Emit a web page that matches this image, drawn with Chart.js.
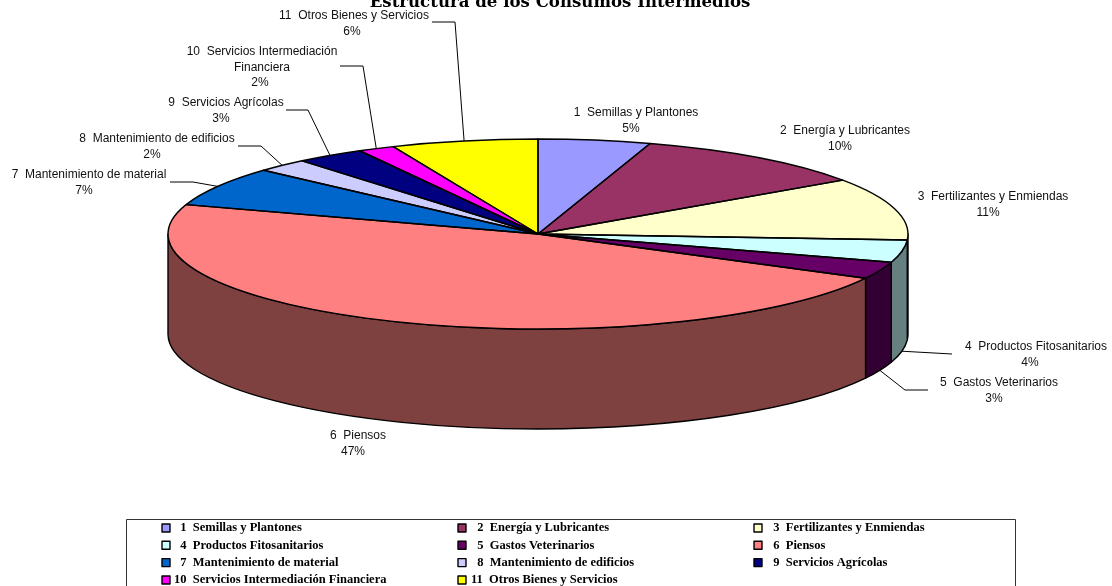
<!DOCTYPE html>
<html>
<head>
<meta charset="utf-8">
<style>html,body{margin:0;padding:0;background:#fff;overflow:hidden}canvas{display:block}</style>
<script src="https://cdn.jsdelivr.net/npm/chart.js@4"></script>
</head>
<body>
<canvas id="c" width="1112" height="586"></canvas>
<script>
const chartTitle = "Estructura de los Consumos Intermedios";
const categories = ["1  Semillas y Plantones","2  Energía y Lubricantes","3  Fertilizantes y Enmiendas","4  Productos Fitosanitarios","5  Gastos Veterinarios","6  Piensos","7  Mantenimiento de material","8  Mantenimiento de edificios","9  Servicios Agrícolas","10  Servicios Intermediación Financiera","11  Otros Bienes y Servicios"];
const values = [4.9,10.5,10.6,3.8,2.9,47.3,6.7,2.3,3.0,1.6,6.4];
const percentLabels = ["5%","10%","11%","4%","3%","47%","7%","2%","3%","2%","6%"];
const colors = ["#9999FF","#993366","#FFFFCC","#CCFFFF","#660066","#FF8080","#0066CC","#CCCCFF","#000080","#FF00FF","#FFFF00"];

// layout of the outside labels: name centre x, first-line y, percent offset, leader elbows
const labelLayout = [
 {x:636,y:113,dx:-5},{x:845,y:131,dx:-5},{x:993,y:197,dx:-5},
 {x:1036,y:347,dx:-6,leader:[[952,354]],onWall:true},
 {x:999,y:383,dx:-5,leader:[[905,390],[928,390]],onWall:true},
 {x:358,y:436,dx:-5},
 {x:89,y:175,dx:-5,leader:[[193,182],[170,182]]},
 {x:157,y:139,dx:-5,leader:[[261,146],[238,146]]},
 {x:226,y:103,dx:-5,leader:[[308,110],[286,110]]},
 {x:262,y:52,dx:-2,leader:[[363,66],[340,66]],split:["10  Servicios Intermediación","Financiera"]},
 {x:354,y:16,dx:-2,leader:[[455,22],[432,22]]}
];
const SQUASH = 95/370, DEPTH = 100;
const PIE_AREA = {left:168, top:-136, right:908, bottom:604, width:740, height:740};

function shade(hex){
  const n=parseInt(hex.slice(1),16);
  return `rgb(${(n>>16&255)>>1},${(n>>8&255)>>1},${(n&255)>>1})`;
}
const pie3d = {
  id:'pie3d',
  afterLayout(chart){ Object.assign(chart.chartArea, PIE_AREA); },
  beforeDatasetsDraw(chart){
    const ctx=chart.ctx, arcs=chart.getDatasetMeta(0).data;
    ctx.save();
    ctx.lineWidth=1.4; ctx.strokeStyle='#000'; ctx.lineJoin='round';
    arcs.forEach((a,i)=>{
      const a0=Math.max(a.startAngle,0), a1=Math.min(a.endAngle,Math.PI);
      if(a1<=a0) return;
      const rx=a.outerRadius, ry=rx*SQUASH;
      ctx.beginPath();
      ctx.ellipse(a.x,a.y,rx,ry,0,a0,a1);
      ctx.ellipse(a.x,a.y+DEPTH,rx,ry,0,a1,a0,true);
      ctx.closePath();
      ctx.fillStyle=shade(colors[i]);
      ctx.fill(); ctx.stroke();
    });
    ctx.restore();
    const a=arcs[0];
    ctx.save();
    ctx.translate(a.x,a.y); ctx.scale(1,SQUASH); ctx.translate(-a.x,-a.y);
  },
  afterDatasetsDraw(chart){
    const ctx=chart.ctx, arcs=chart.getDatasetMeta(0).data;
    ctx.restore();
    ctx.save();
    ctx.lineWidth=1.4; ctx.strokeStyle='#000'; ctx.lineJoin='round';
    arcs.forEach(a=>{
      const rx=a.outerRadius, ry=rx*SQUASH;
      ctx.beginPath();
      ctx.moveTo(a.x,a.y);
      ctx.ellipse(a.x,a.y,rx,ry,0,a.startAngle,a.endAngle);
      ctx.closePath();
      ctx.stroke();
    });
    // leaders
    ctx.lineWidth=1;
    arcs.forEach((a,i)=>{
      const L=labelLayout[i]; if(!L.leader) return;
      const m=(a.startAngle+a.endAngle)/2, rx=a.outerRadius, ry=rx*SQUASH;
      ctx.beginPath();
      ctx.moveTo(a.x+rx*Math.cos(m), a.y+ry*Math.sin(m)+(L.onWall?DEPTH:0));
      L.leader.forEach(p=>ctx.lineTo(p[0],p[1]));
      ctx.stroke();
    });
    // outside labels
    ctx.font='12px "Liberation Sans", Arial, sans-serif';
    ctx.fillStyle='#111'; ctx.textAlign='center'; ctx.textBaseline='middle';
    labelLayout.forEach((L,i)=>{
      const lines=(L.split||[categories[i]]);
      lines.forEach((t,k)=>ctx.fillText(t,L.x,L.y+k*15.2));
      ctx.fillText(percentLabels[i],L.x+L.dx,L.y+lines.length*15.2);
    });
    // title
    ctx.fillStyle='#000';
    ctx.font='bold 16.6px "DejaVu Serif", serif';
    ctx.textBaseline='alphabetic';
    ctx.fillText(chartTitle,560,7);
    ctx.textBaseline='middle';
    // legend
    ctx.strokeStyle='#333'; ctx.lineWidth=1;
    ctx.strokeRect(126.5,519.5,889,80);
    ctx.font='bold 12.5px "Liberation Serif", serif';
    ctx.textAlign='left';
    const colSw=[162,458,754], colTx=[174,471,767], rowY=[528,545.3,562.6,580];
    categories.forEach((t,i)=>{
      const c=i%3, r=Math.floor(i/3), y=rowY[r];
      ctx.fillStyle=colors[i];
      ctx.fillRect(colSw[c],y-4,8,8);
      ctx.strokeStyle='#000'; ctx.lineWidth=1.4;
      ctx.strokeRect(colSw[c],y-4,8,8);
      ctx.fillStyle='#000';
      ctx.fillText((i<9?"  ":"")+t,colTx[c],y);
    });
    ctx.restore();
  }
};
new Chart(document.getElementById('c'),{
  type:'pie',
  data:{labels:categories,datasets:[{data:values,backgroundColor:colors,borderWidth:0,clip:false}]},
  options:{
    responsive:false,animation:false,
    events:[],
    plugins:{legend:{display:false},tooltip:{enabled:false},title:{display:false}}
  },
  plugins:[pie3d]
});
</script>
</body>
</html>
